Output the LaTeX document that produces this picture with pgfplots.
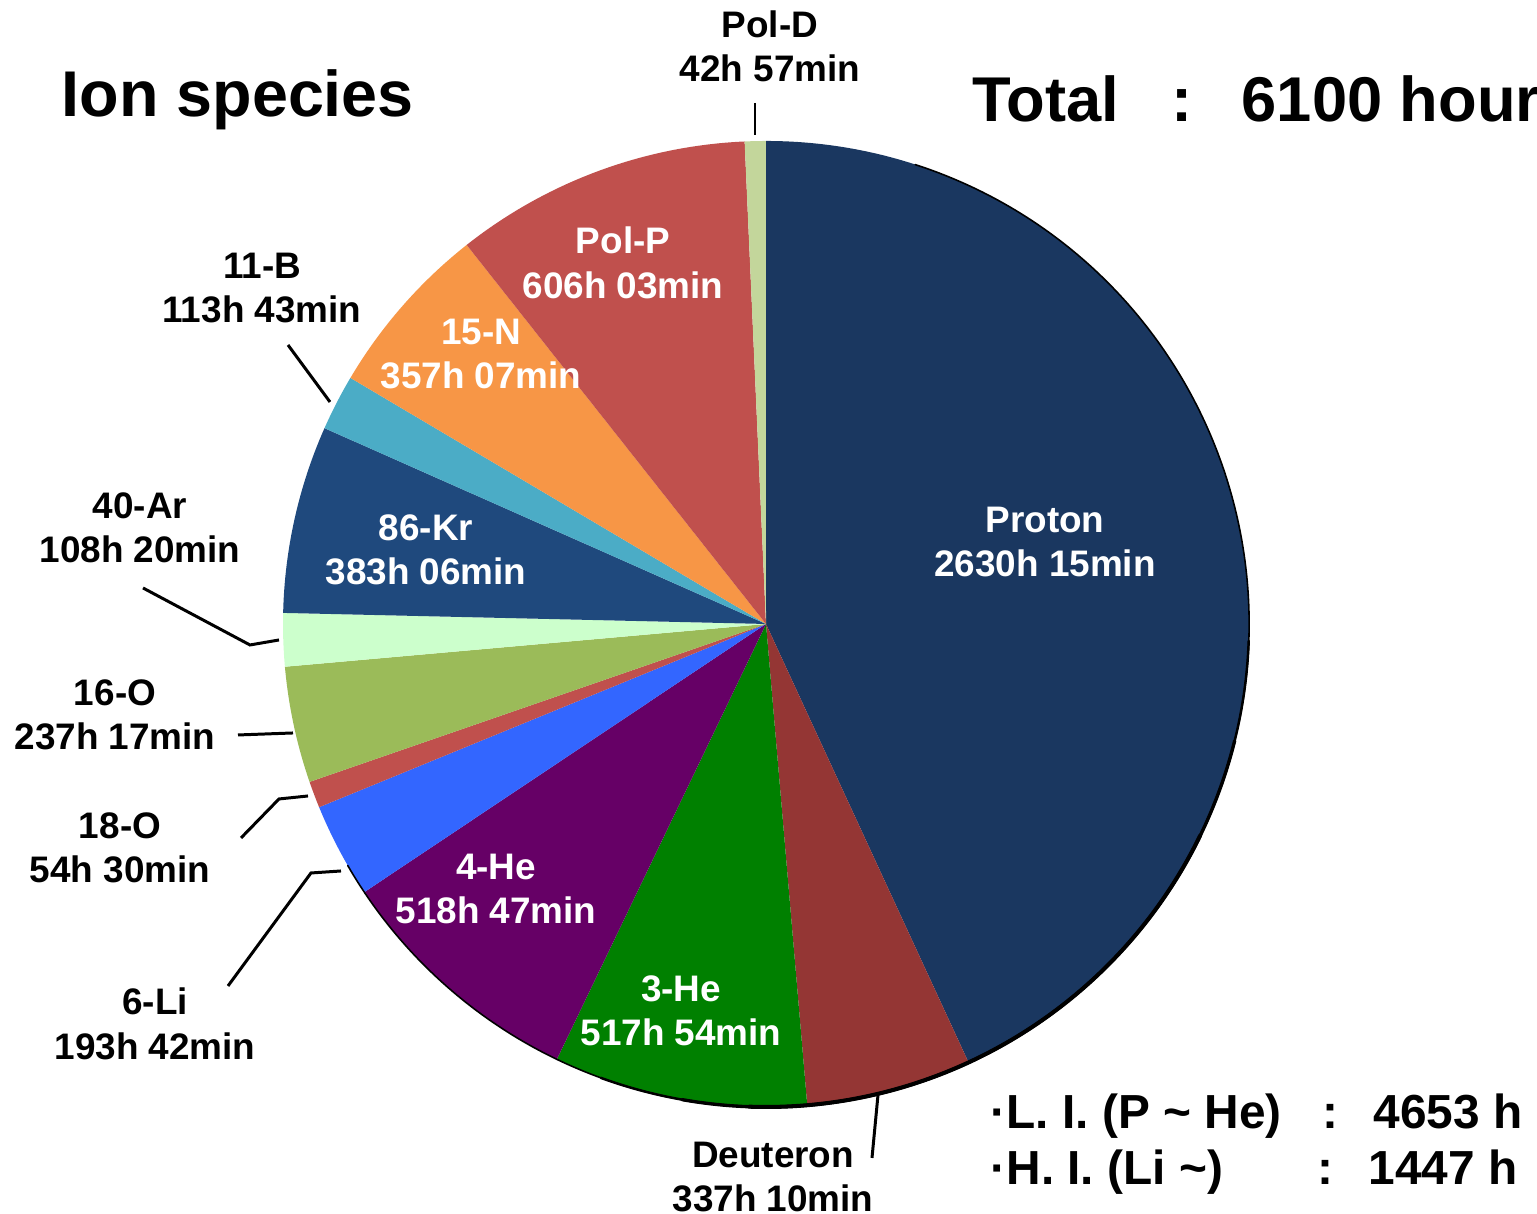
\documentclass[border=0pt]{standalone}
\usepackage{pgfplots}
\pgfplotsset{compat=1.18}
\usepackage{pgfplotstable}
\usepackage{fontspec}
\setmainfont{Liberation Sans}

\definecolor{cProton}{HTML}{1A3760}
\definecolor{cDeut}{HTML}{943634}
\definecolor{cHeThree}{HTML}{008000}
\definecolor{cHeFour}{HTML}{660066}
\definecolor{cLi}{HTML}{3366FF}
\definecolor{cOEighteen}{HTML}{C0504D}
\definecolor{cOSixteen}{HTML}{9BBB59}
\definecolor{cAr}{HTML}{CCFFCC}
\definecolor{cKr}{HTML}{1F497D}
\definecolor{cB}{HTML}{4BACC6}
\definecolor{cN}{HTML}{F79646}
\definecolor{cPolP}{HTML}{C0504D}
\definecolor{cPolD}{HTML}{C3D69B}

% beam time per ion species (hours, minutes), slice colour, label centre, label colour
\pgfplotstableread{
name     h    m   colour      lx    ly    tc
Proton   2630 15  cProton     1045  542   white
Deuteron 337  10  cDeut       773   1177  black
3-He     517  54  cHeThree    681   1011  white
4-He     518  47  cHeFour     496   889   white
6-Li     193  42  cLi         155   1024  black
18-O     54   30  cOEighteen  120   848   black
16-O     237  17  cOSixteen   115   715   black
40-Ar    108  20  cAr         140   528   black
86-Kr    383  06  cKr         426   550   white
11-B     113  43  cB          262   288   black
15-N     357  07  cN          481   354   white
Pol-P    606  03  cPolP       623   263   white
Pol-D    42   57  cPolD       770   46    black
}\iontable

\newcommand\lab{\bfseries\fontsize{10.5}{12.6}\selectfont}
\newcommand\px[2]{(axis cs:#1,{1214-#2})}

\begin{document}
\begin{tikzpicture}
\begin{axis}[
  width=15.37cm, height=12.14cm, scale only axis,
  xmin=0, xmax=1537, ymin=0, ymax=1214,
  hide axis, clip=false]

\pgfplotsextra{%
  % total time
  \pgfmathsetmacro\total{0}%
  \pgfplotsforeachungrouped \i in {0,...,12}{%
    \pgfplotstablegetelem{\i}{h}\of\iontable\let\hh\pgfplotsretval
    \pgfplotstablegetelem{\i}{m}\of\iontable\let\mm\pgfplotsretval
    \pgfmathsetmacro\total{\total+\hh+\mm/60}%
  }%
  % slices, clockwise from the top
  \def\start{90}%
  \pgfplotsforeachungrouped \i in {0,...,12}{%
    \pgfplotstablegetelem{\i}{h}\of\iontable\let\hh\pgfplotsretval
    \pgfplotstablegetelem{\i}{m}\of\iontable\let\mm\pgfplotsretval
    \pgfplotstablegetelem{\i}{colour}\of\iontable\let\col\pgfplotsretval
    \pgfmathsetmacro\stop{\start-(\hh+\mm/60)/\total*360}%
    \fill[fill=\col] (axis cs:766,590) -- ++(\start:48.3mm)
      arc[start angle=\start, end angle=\stop, radius=48.3mm] -- cycle;
    \let\start\stop
  }%
  % rim, heavier towards the lower right
  \draw[line width=0.45pt, line cap=round] (axis cs:766,590) ++(72:48.3mm)
    arc[start angle=72, end angle=-150, radius=48.3mm];
  \draw[line width=0.7pt, line cap=round] (axis cs:766,590) ++(-2:48.3mm)
    arc[start angle=-2, end angle=-110, radius=48.3mm];
  \draw[line width=0.95pt, line cap=round] (axis cs:766,590) ++(-14:48.3mm)
    arc[start angle=-14, end angle=-100, radius=48.3mm];
  \draw[line width=1.15pt, line cap=round] (axis cs:766,590) ++(-26:48.3mm)
    arc[start angle=-26, end angle=-92, radius=48.3mm];
  % slice labels
  \pgfplotsforeachungrouped \i in {0,...,12}{%
    \pgfplotstablegetelem{\i}{name}\of\iontable\let\nm\pgfplotsretval
    \pgfplotstablegetelem{\i}{h}\of\iontable\let\hh\pgfplotsretval
    \pgfplotstablegetelem{\i}{m}\of\iontable\let\mm\pgfplotsretval
    \pgfplotstablegetelem{\i}{lx}\of\iontable\let\lx\pgfplotsretval
    \pgfplotstablegetelem{\i}{ly}\of\iontable\let\ly\pgfplotsretval
    \pgfplotstablegetelem{\i}{tc}\of\iontable\let\tc\pgfplotsretval
    \node[text=\tc, align=center, font=\lab, inner sep=0pt]
      at (axis cs:\lx,{1214-\ly}) {\nm\\\hh h \mm min};
  }%
  % leader lines
  \begin{scope}[line width=0.85pt]
    \draw \px{755}{103} -- \px{755}{135};
    \draw \px{288}{345} -- \px{330}{402};
    \draw \px{143}{588} -- \px{250}{645} -- \px{279}{640};
    \draw \px{238}{735} -- \px{293}{733};
    \draw \px{241}{838} -- \px{279}{799} -- \px{308}{796};
    \draw \px{228}{986} -- \px{311}{873} -- \px{341}{871};
    \draw \px{872}{1158} -- \px{878}{1095};
  \end{scope}
  % headings
  \node[anchor=base west, inner sep=0pt, font=\bfseries\fontsize{18.4}{20}\selectfont]
    at \px{61}{117} {Ion species};
  \node[anchor=base west, inner sep=0pt, font=\bfseries\fontsize{18}{20}\selectfont]
    at \px{972}{122} {Total};
  \node[anchor=base, inner sep=0pt, font=\bfseries\fontsize{18}{20}\selectfont]
    at \px{1182}{122} {:};
  \node[anchor=base west, inner sep=0pt, font=\bfseries\fontsize{18}{20}\selectfont]
    at \px{1241}{122} {6100 hour};
  % summary
  \begin{scope}[every node/.style={inner sep=0pt, font=\bfseries\fontsize{13.6}{15}\selectfont}]
    \node[anchor=base west] at \px{990}{1129} {·L. I. (P \textasciitilde\ He)};
    \node[anchor=base] at \px{1330}{1129} {:};
    \node[anchor=base west] at \px{1373}{1129} {4653 h};
    \node[anchor=base west] at \px{990}{1185} {·H. I. (Li \textasciitilde)};
    \node[anchor=base] at \px{1325}{1185} {:};
    \node[anchor=base west] at \px{1368}{1185} {1447 h};
  \end{scope}
}
\end{axis}
\pgfresetboundingbox
\useasboundingbox (current axis.south west) rectangle (current axis.north east);
\end{tikzpicture}
\end{document}
